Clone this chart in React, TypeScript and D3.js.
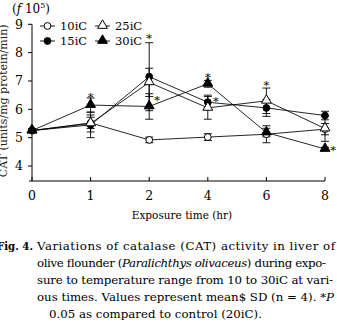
import React from 'react';
import * as d3 from 'd3';

// exposure times (hr), shown as evenly spaced categories
const times = ['0', '1', '2', '4', '6', '8'];

// CAT activity (x 10^5), mean values per temperature
const c10 = [5.25, 5.52, 4.92, 5.02, 5.12, 5.3];
const c15 = [5.25, 5.45, 7.15, 6.25, 6.05, 5.78];
const c25 = [5.25, 5.5, 6.95, 6.05, 6.3, 5.32];
const c30 = [5.25, 6.15, 6.1, 6.9, 5.18, 4.6];

// standard deviations
const sd10 = [0.05, 0.2, 0.1, 0.12, 0.3, 0.2];
const sd15 = [0.05, 0.45, 1.2, 0.25, 0.3, 0.15];
const sd25 = [0.05, 0.3, 0.5, 0.4, 0.45, 0.45];
const sd30 = [0.05, 0.25, 0.45, 0.12, 0.15, 0.06];

const yTicks = [4, 5, 6, 7, 8, 9];

// significance marks: time, value, placed above or to the right
const stars = [
  { t: '1', v: 6.52, side: 'top' },
  { t: '2', v: 8.57, side: 'top' },
  { t: '2', v: 6.4, side: 'right' },
  { t: '4', v: 7.22, side: 'top' },
  { t: '4', v: 6.36, side: 'right' },
  { t: '6', v: 6.94, side: 'top' },
  { t: '8', v: 4.65, side: 'right' },
];

const series = [
  { name: '10iC', values: c10, sd: sd10, shape: 'circle', fill: '#fff' },
  { name: '15iC', values: c15, sd: sd15, shape: 'circle', fill: '#000' },
  { name: '25iC', values: c25, sd: sd25, shape: 'triangle', fill: '#fff' },
  { name: '30iC', values: c30, sd: sd30, shape: 'triangle', fill: '#000' },
];

const W = 337;
const H = 324;
const serif = '"DejaVu Serif", serif';

function Marker({ shape, fill, x, y }: { shape: string; fill: string; x: number; y: number }) {
  if (shape === 'circle') {
    return <circle cx={x} cy={y} r={3.4} fill={fill} stroke="#000" strokeWidth={1} />;
  }
  const tri = d3.symbol(d3.symbolTriangle, 42)();
  return <path d={tri || ''} transform={`translate(${x},${y - 0.5})`} fill={fill} stroke="#000" strokeWidth={1} />;
}

export default function App() {
  const x = d3.scalePoint<string>().domain(times).range([32, 325]);
  const y = d3.scaleLinear().domain([3.47, 9]).range([181, 24.3]);

  const line = d3
    .line<number>()
    .x((_, i) => x(times[i]) as number)
    .y((d) => y(d));

  const legendCols = [
    [series[0], series[1]],
    [series[2], series[3]],
  ];

  return (
    <svg width={W} height={H} style={{ position: 'absolute', left: 0, top: 0, background: '#fff' }}>
      {/* y-axis title, partly cut off at the left edge */}
      <text
        transform={`translate(7,${y(6.3)}) rotate(-90)`}
        textAnchor="middle"
        fontFamily={serif}
        fontSize={11}
        fill="#222"
      >
        CAT (units/mg protein/min)
      </text>

      {/* multiplier */}
      <text x={12} y={13} fontFamily={serif} fontSize={12}>
        (<tspan fontStyle="italic">f</tspan> 10<tspan dy={-5} fontSize={8}>5</tspan>
        <tspan dy={5}>)</tspan>
      </text>

      {/* axes */}
      <g stroke="#000" strokeWidth={1} fill="none">
        <line x1={32} x2={32} y1={y(9)} y2={y.range()[0]} />
        <line x1={29} x2={x('8') as number} y1={y.range()[0]} y2={y.range()[0]} />
        {yTicks.map((t) => (
          <line key={t} x1={28} x2={32} y1={y(t)} y2={y(t)} />
        ))}
        {times.map((t) => (
          <line key={t} x1={x(t)} x2={x(t)} y1={y.range()[0]} y2={y.range()[0] - 4} />
        ))}
      </g>
      {yTicks.map((t) => (
        <text key={t} x={23} y={y(t) + 4.5} textAnchor="end" fontFamily={serif} fontSize={12.5}>
          {t}
        </text>
      ))}
      {times.map((t) => (
        <text key={t} x={x(t)} y={200} textAnchor="middle" fontFamily={serif} fontSize={12.5}>
          {t}
        </text>
      ))}
      <text x={182} y={219} textAnchor="middle" fontFamily={serif} fontSize={10.5}>
        Exposure time (hr)
      </text>

      {/* error bars */}
      <g stroke="#000" strokeWidth={0.9}>
        {series.map((s) =>
          s.values.map((v, i) => {
            const cx = x(times[i]) as number;
            const top = y(v + s.sd[i]);
            const bot = y(v - s.sd[i]);
            return (
              <g key={s.name + i}>
                <line x1={cx} x2={cx} y1={top} y2={bot} />
                <line x1={cx - 4} x2={cx + 4} y1={top} y2={top} />
                <line x1={cx - 4} x2={cx + 4} y1={bot} y2={bot} />
              </g>
            );
          })
        )}
      </g>

      {/* lines */}
      {series.map((s) => (
        <path key={s.name} d={line(s.values) || ''} fill="none" stroke="#000" strokeWidth={0.85} />
      ))}

      {/* markers */}
      {series.map((s) =>
        s.values.map((v, i) => (
          <Marker key={s.name + i} shape={s.shape} fill={s.fill} x={x(times[i]) as number} y={y(v)} />
        ))
      )}

      {/* significance */}
      {stars.map((st, i) => {
        const sx = (x(st.t) as number) + (st.side === 'right' ? 8 : 0);
        return (
          <text key={i} x={sx} y={y(st.v) + 6} textAnchor="middle" fontFamily={serif} fontSize={11.5}>
            *
          </text>
        );
      })}

      {/* legend */}
      {legendCols.map((col, ci) =>
        col.map((s, ri) => {
          const lx = 40 + ci * 55;
          const ly = 26 + ri * 15;
          return (
            <g key={s.name}>
              <line x1={lx} x2={lx + 15} y1={ly} y2={ly} stroke="#000" strokeWidth={0.9} />
              <Marker shape={s.shape} fill={s.fill} x={lx + 7.5} y={ly} />
              <text x={lx + 20} y={ly + 4} fontFamily={serif} fontSize={11.5}>
                {s.name}
              </text>
            </g>
          );
        })
      )}

      {/* caption */}
      <g fontFamily={serif} fontSize={11.8}>
        <text x={-3} y={250} fontWeight="bold" textLength={36} lengthAdjust="spacingAndGlyphs">
          Fig. 4.
        </text>
        <text x={37} y={250} textLength={298} lengthAdjust="spacing">
          Variations of catalase (CAT) activity in liver of
        </text>
        <text x={37} y={267} textLength={289} lengthAdjust="spacing">
          olive flounder (<tspan fontStyle="italic">Paralichthys olivaceus</tspan>) during expo-
        </text>
        <text x={37} y={284} textLength={296} lengthAdjust="spacing">
          sure to temperature range from 10 to 30iC at vari-
        </text>
        <text x={37} y={301} textLength={297} lengthAdjust="spacing">
          ous times. Values represent mean$ SD (n = 4). *<tspan fontStyle="italic">P</tspan>
        </text>
        <text x={49} y={318}>
          0.05 as compared to control (20iC).
        </text>
      </g>
    </svg>
  );
}
